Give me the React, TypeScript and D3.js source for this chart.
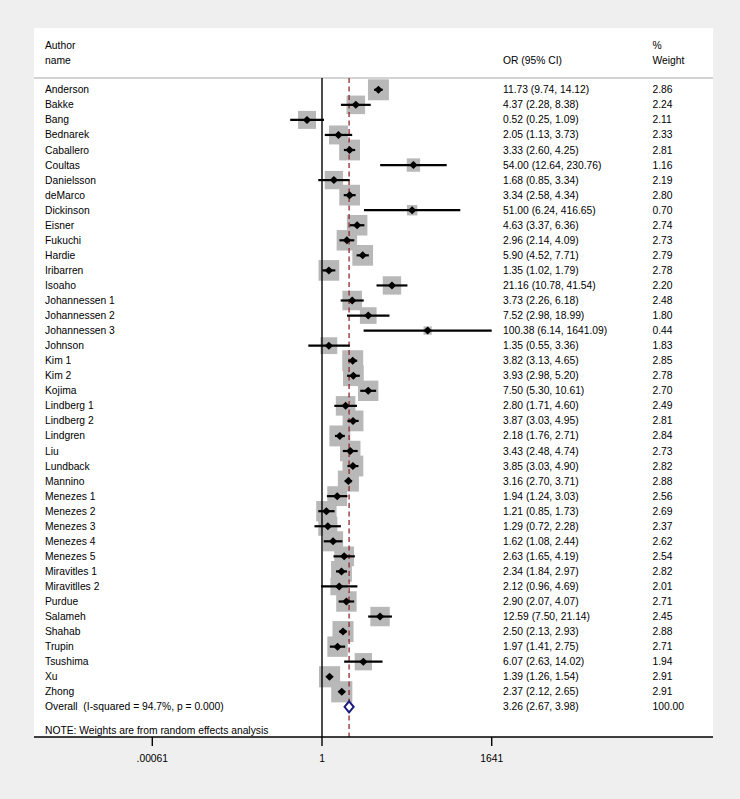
import React from "react";
import * as d3 from "d3";

const names = ["Anderson","Bakke","Bang","Bednarek","Caballero","Coultas","Danielsson","deMarco","Dickinson","Eisner","Fukuchi","Hardie","Iribarren","Isoaho","Johannessen 1","Johannessen 2","Johannessen 3","Johnson","Kim 1","Kim 2","Kojima","Lindberg 1","Lindberg 2","Lindgren","Liu","Lundback","Mannino","Menezes 1","Menezes 2","Menezes 3","Menezes 4","Menezes 5","Miravitles 1","Miravitlles 2","Purdue","Salameh","Shahab","Trupin","Tsushima","Xu","Zhong"];
const ors = [11.73,4.37,0.52,2.05,3.33,54.00,1.68,3.34,51.00,4.63,2.96,5.90,1.35,21.16,3.73,7.52,100.38,1.35,3.82,3.93,7.50,2.80,3.87,2.18,3.43,3.85,3.16,1.94,1.21,1.29,1.62,2.63,2.34,2.12,2.90,12.59,2.50,1.97,6.07,1.39,2.37];
const lows = [9.74,2.28,0.25,1.13,2.60,12.64,0.85,2.58,6.24,3.37,2.14,4.52,1.02,10.78,2.26,2.98,6.14,0.55,3.13,2.98,5.30,1.71,3.03,1.76,2.48,3.03,2.70,1.24,0.85,0.72,1.08,1.65,1.84,0.96,2.07,7.50,2.13,1.41,2.63,1.26,2.12];
const highs = [14.12,8.38,1.09,3.73,4.25,230.76,3.34,4.34,416.65,6.36,4.09,7.71,1.79,41.54,6.18,18.99,1641.09,3.36,4.65,5.20,10.61,4.60,4.95,2.71,4.74,4.90,3.71,3.03,1.73,2.28,2.44,4.19,2.97,4.69,4.07,21.14,2.93,2.75,14.02,1.54,2.65];
const weights = [2.86,2.24,2.11,2.33,2.81,1.16,2.19,2.80,0.70,2.74,2.73,2.79,2.78,2.20,2.48,1.80,0.44,1.83,2.85,2.78,2.70,2.49,2.81,2.84,2.73,2.82,2.88,2.56,2.69,2.37,2.62,2.54,2.82,2.01,2.71,2.45,2.88,2.71,1.94,2.91,2.91];
const overall = { or: 3.26, lo: 2.67, hi: 3.98, weight: "100.00", label: "Overall  (I-squared = 94.7%, p = 0.000)" };
const tickValues = [1 / 1641, 1, 1641];
const tickLabels = [".00061", "1", "1641"];

const W = 740, H = 799;
const font = "Liberation Sans, Arial, Helvetica, sans-serif";

export default function App() {
  const x = d3.scaleLog().domain([1 / 1641, 1641]).range([152.3, 491.7]);
  const rowY = (i: number) => 89.8 + i * 15.05;
  const boxSide = (w: number) => 12.4 * Math.sqrt(w);
  const fs = 10.3;
  const top = 78, axisY = 737;
  const ovY = rowY(names.length);
  const fmt = (v: number) => v.toFixed(2);
  return (
    <svg width={W} height={H} style={{ position: "absolute", left: 0, top: 0 }} fontFamily={font}>
      <rect x={0} y={0} width={W} height={H} fill="#efefef" />
      <rect x={34} y={28} width={679} height={axisY - 28} fill="#ffffff" />
      {/* header */}
      <text x={45} y={45} fontSize={fs} dominantBaseline="central">Author</text>
      <text x={45} y={60} fontSize={fs} dominantBaseline="central">name</text>
      <text x={503} y={60} fontSize={fs} dominantBaseline="central">OR (95% CI)</text>
      <text x={652.5} y={45} fontSize={fs} dominantBaseline="central">%</text>
      <text x={652.5} y={60} fontSize={fs} dominantBaseline="central">Weight</text>
      <line x1={34} x2={713} y1={top} y2={top} stroke="#c4c4c4" strokeWidth={1.5} />
      {/* boxes */}
      {names.map((n, i) => {
        const s = boxSide(weights[i]);
        return <rect key={"b" + i} x={x(ors[i]) - s / 2} y={rowY(i) - s / 2} width={s} height={s} fill="#b8b8b8" />;
      })}
      {/* null line */}
      <line x1={x(1)} x2={x(1)} y1={top} y2={axisY} stroke="#000" strokeWidth={1.4} />
      {/* overall dashed line */}
      <line x1={x(overall.or)} x2={x(overall.or)} y1={top} y2={axisY} stroke="#8b2b2b" strokeWidth={1.3} strokeDasharray="5,3.5" />
      {/* CI and markers */}
      {names.map((n, i) => {
        const cx = x(ors[i]), cy = rowY(i);
        return (
          <g key={"c" + i}>
            <line x1={x(lows[i])} x2={x(highs[i])} y1={cy} y2={cy} stroke="#000" strokeWidth={2.2} />
            <path d={`M${cx - 4.2},${cy} L${cx},${cy - 4} L${cx + 4.2},${cy} L${cx},${cy + 4} Z`} fill="#000" />
          </g>
        );
      })}
      {/* overall diamond */}
      <path
        d={`M${x(overall.lo)},${ovY} L${x(overall.or)},${ovY - 5.6} L${x(overall.hi)},${ovY} L${x(overall.or)},${ovY + 5.6} Z`}
        fill="#ffffff" stroke="#1a1a80" strokeWidth={2} />
      {/* texts */}
      {names.map((n, i) => (
        <g key={"t" + i} fontSize={fs}>
          <text x={45} y={rowY(i)} dominantBaseline="central">{n}</text>
          <text x={503} y={rowY(i)} dominantBaseline="central">{`${fmt(ors[i])} (${fmt(lows[i])}, ${fmt(highs[i])})`}</text>
          <text x={652.5} y={rowY(i)} dominantBaseline="central">{fmt(weights[i])}</text>
        </g>
      ))}
      <text x={45} y={ovY} fontSize={fs} dominantBaseline="central" style={{ whiteSpace: "pre" }}>{overall.label}</text>
      <text x={503} y={ovY} fontSize={fs} dominantBaseline="central">{`${fmt(overall.or)} (${fmt(overall.lo)}, ${fmt(overall.hi)})`}</text>
      <text x={652.5} y={ovY} fontSize={fs} dominantBaseline="central">{overall.weight}</text>
      <text x={45} y={730} fontSize={fs} dominantBaseline="central">NOTE: Weights are from random effects analysis</text>
      {/* axis */}
      <line x1={34} x2={713} y1={axisY} y2={axisY} stroke="#000" strokeWidth={1.5} />
      {tickValues.map((t, i) => (
        <g key={"k" + i}>
          <line x1={x(t)} x2={x(t)} y1={axisY} y2={axisY + 9} stroke="#000" strokeWidth={1.4} />
          <text x={x(t)} y={758} fontSize={fs} textAnchor="middle" dominantBaseline="central">{tickLabels[i]}</text>
        </g>
      ))}
    </svg>
  );
}
